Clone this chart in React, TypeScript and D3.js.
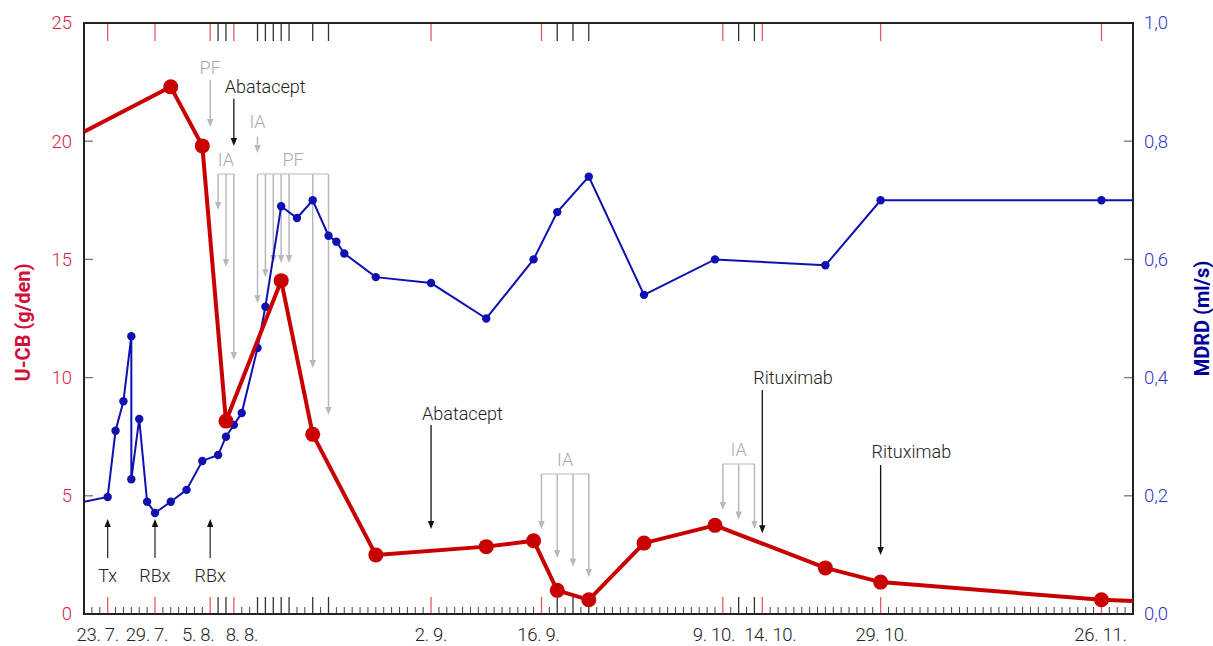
import React from "react";
import * as d3 from "d3";

const YEAR = "2013";
const domainDates = ["07-20", "11-30"];
const labelDates = ["07-23", "07-29", "08-05", "08-08", "09-02", "09-16", "10-09", "10-14", "10-29", "11-26"];
const eventDates = ["08-06", "08-07", "08-11", "08-12", "08-13", "08-14", "08-15", "08-18", "08-20", "09-18", "09-20", "09-22", "10-11", "10-13"];

const leftTicks = [0, 5, 10, 15, 20, 25];
const rightTicks = [0, 0.2, 0.4, 0.6, 0.8, 1.0];

// U-CB (g/den)
const ucbDates = ["07-20", "07-31", "08-04", "08-07", "08-14", "08-18", "08-26", "09-09", "09-15", "09-18", "09-22", "09-29", "10-08", "10-22", "10-29", "11-26", "11-30"];
const ucbValues = [20.4, 22.3, 19.8, 8.16, 14.1, 7.6, 2.5, 2.85, 3.1, 1.0, 0.6, 3.0, 3.75, 1.95, 1.35, 0.6, 0.55];
const ucbMarker = [false, true, true, true, true, true, true, true, true, true, true, true, true, true, true, true, false];

// MDRD (ml/s)
const mdrdDates = ["07-20", "07-23", "07-24", "07-25", "07-26", "07-26", "07-27", "07-28", "07-29", "07-31", "08-02", "08-04", "08-06", "08-07", "08-08", "08-09", "08-11", "08-12", "08-14", "08-16", "08-18", "08-20", "08-21", "08-22", "08-26", "09-02", "09-09", "09-15", "09-18", "09-22", "09-29", "10-08", "10-22", "10-29", "11-26", "11-30"];
const mdrdValues = [0.19, 0.198, 0.31, 0.36, 0.47, 0.228, 0.33, 0.19, 0.171, 0.19, 0.21, 0.259, 0.269, 0.30, 0.32, 0.34, 0.45, 0.52, 0.69, 0.67, 0.70, 0.64, 0.63, 0.61, 0.57, 0.56, 0.50, 0.60, 0.68, 0.74, 0.54, 0.60, 0.59, 0.70, 0.70, 0.70];
const mdrdMarker = mdrdDates.map((_, i) => i !== 0 && i !== mdrdDates.length - 1);

// Annotations (dates, label, arrow extents in U-CB axis units)
const singleDown = [
  { date: "08-05", label: "PF", gray: true, from: 22.6, to: 20.6, textAt: 22.84, anchor: "middle" },
  { date: "08-08", label: "Abatacept", gray: false, from: 21.8, to: 19.8, textAt: 22.04, anchor: "start" },
  { date: "08-11", label: "IA", gray: true, from: 20.2, to: 19.5, textAt: 20.55, anchor: "middle" },
  { date: "09-02", label: "Abatacept", gray: false, from: 8.0, to: 3.6, textAt: 8.2, anchor: "start" },
  { date: "10-14", label: "Rituximab", gray: false, from: 9.475, to: 3.42, textAt: 9.73, anchor: "start" },
  { date: "10-29", label: "Rituximab", gray: false, from: 6.3, to: 2.5, textAt: 6.6, anchor: "start" },
];
const brackets = [
  { label: "IA", dates: ["08-06", "08-07", "08-08"], top: 18.61, tips: [17.09, 14.68, 10.74], textAt: 18.95 },
  { label: "PF", dates: ["08-11", "08-12", "08-13", "08-14", "08-15", "08-18", "08-20"], top: 18.61, tips: [13.15, 14.25, 14.85, 14.85, 14.85, 10.41, 8.42], textAt: 18.95 },
  { label: "IA", dates: ["09-16", "09-18", "09-20", "09-22"], top: 5.92, tips: [3.6, 2.37, 2.0, 1.57], textAt: 6.26 },
  { label: "IA", dates: ["10-09", "10-11", "10-13"], top: 6.35, tips: [4.4, 4.0, 3.6], textAt: 6.68 },
];
const upArrows = [
  { date: "07-23", label: "Tx" },
  { date: "07-29", label: "RBx" },
  { date: "08-05", label: "RBx" },
];

// horizontal nudges (px) of crowded date labels
const labelNudge = [-10, -8, -12, 8, 0, -3, -9, 8, 1, -1];

const parse = (s: string) => d3.utcParse("%Y-%m-%d")(`${YEAR}-${s}`) as Date;

const W = 1213, H = 646;
const L = 84, R = 1133, T = 23, B = 614;
const RED = "#c80000";
const BLUE = "#1010b0";
const GRAY = "#b8b8b8";
const FONT = "Roboto, 'Open Sans', sans-serif";

export default function App() {
  const x = d3.scaleUtc().domain(domainDates.map(parse)).range([L, R]);
  const yL = d3.scaleLinear().domain([0, 25]).range([B, T]);
  const yR = d3.scaleLinear().domain([0, 1]).range([B, T]);

  const days = d3.utcDay.range(parse(domainDates[0]), d3.utcDay.offset(parse(domainDates[1]), 1));
  const labelSet = new Set(labelDates);
  const eventSet = new Set(eventDates);
  const fmtKey = d3.utcFormat("%m-%d");
  const fmtLabel = (d: Date) => `${d.getUTCDate()}. ${d.getUTCMonth() + 1}.`;

  const ucb = ucbDates.map((d, i) => ({ x: x(parse(d)), y: yL(ucbValues[i]), m: ucbMarker[i] }));
  const mdrd = mdrdDates.map((d, i) => ({ x: x(parse(d)), y: yR(mdrdValues[i]), m: mdrdMarker[i] }));
  const line = d3.line<{ x: number; y: number }>().x((d) => d.x).y((d) => d.y);

  const arrowHead = (px: number, py: number, dir: number, color: string, key: string) => (
    <path key={key} d={`M${px},${py} L${px - 3.2},${py - dir * 8} L${px + 3.2},${py - dir * 8} Z`} fill={color} />
  );

  return (
    <svg width={W} height={H} style={{ position: "absolute", left: 0, top: 0, background: "#fff" }} fontFamily={FONT}>
      <defs>
        <clipPath id="plot">
          <rect x={L} y={T} width={R - L} height={B - T} />
        </clipPath>
      </defs>

      {/* bottom day ticks */}
      {days.map((d, i) => {
        const k = fmtKey(d);
        const xx = x(d);
        if (labelSet.has(k)) return <line key={"b" + i} x1={xx} x2={xx} y1={B} y2={B - 17} stroke="#e85a5a" strokeWidth={1.3} />;
        if (eventSet.has(k)) return <line key={"b" + i} x1={xx} x2={xx} y1={B} y2={B - 17} stroke="#333" strokeWidth={1.3} />;
        return <line key={"b" + i} x1={xx} x2={xx} y1={B} y2={B - 7} stroke="#444" strokeWidth={1} />;
      })}
      {/* top event ticks */}
      {days.map((d, i) => {
        const k = fmtKey(d);
        const xx = x(d);
        if (labelSet.has(k)) return <line key={"t" + i} x1={xx} x2={xx} y1={T} y2={T + 18} stroke="#e85a5a" strokeWidth={1.3} />;
        if (eventSet.has(k)) return <line key={"t" + i} x1={xx} x2={xx} y1={T} y2={T + 18} stroke="#333" strokeWidth={1.3} />;
        return null;
      })}

      {/* y ticks inward */}
      {leftTicks.slice(1, -1).map((v) => (
        <line key={"lt" + v} x1={L} x2={L + 9} y1={yL(v)} y2={yL(v)} stroke="#777" strokeWidth={1.3} />
      ))}
      {rightTicks.slice(1, -1).map((v) => (
        <line key={"rt" + v} x1={R - 9} x2={R} y1={yR(v)} y2={yR(v)} stroke="#777" strokeWidth={1.3} />
      ))}

      {/* frame */}
      <rect x={L} y={T} width={R - L} height={B - T} fill="none" stroke="#222" strokeWidth={2} />

      {/* left labels */}
      {leftTicks.map((v) => (
        <text key={"ll" + v} x={72} y={yL(v)} dy="0.35em" textAnchor="end" fontSize={18.5} fontWeight={300} fill="#d6263f">
          {v}
        </text>
      ))}
      {rightTicks.map((v) => (
        <text key={"rl" + v} x={1144} y={yR(v)} dy="0.35em" textAnchor="start" fontSize={18.5} fontWeight={300} fill="#3535c8">
          {d3.format(".1f")(v).replace(".", ",")}
        </text>
      ))}
      {labelDates.map((s, i) => (
        <text key={"xl" + s} x={x(parse(s)) + labelNudge[i]} y={641} textAnchor="middle" fontSize={18.5} fontWeight={300} fill="#222" letterSpacing={-0.3}>
          {fmtLabel(parse(s))}
        </text>
      ))}

      {/* axis titles */}
      <text transform={`translate(30,${(T + B) / 2 + 4}) rotate(-90)`} textAnchor="middle" fontSize={20} fontWeight={700} fill="#d0103a">
        U-CB (g/den)
      </text>
      <text transform={`translate(1209,${(T + B) / 2}) rotate(-90)`} textAnchor="middle" fontSize={20} fontWeight={700} fill="#000099">
        MDRD (ml/s)
      </text>

      {/* annotations */}
      {singleDown.map((a, i) => {
        const xx = x(parse(a.date));
        const c = a.gray ? GRAY : "#111";
        const tc = a.gray ? "#aaa" : "#222";
        return (
          <g key={"sd" + i}>
            <line x1={xx} x2={xx} y1={yL(a.from)} y2={yL(a.to) - 6} stroke={c} strokeWidth={a.gray ? 1.5 : 1.3} />
            {arrowHead(xx, yL(a.to), 1, c, "h")}
            <text x={a.anchor === "start" ? xx - 9 : xx} y={yL(a.textAt)} textAnchor={a.anchor} fontSize={18} fontWeight={300} fill={tc}>
              {a.label}
            </text>
          </g>
        );
      })}
      {brackets.map((b, i) => {
        const xs = b.dates.map((d) => x(parse(d)));
        const yt = yL(b.top);
        return (
          <g key={"br" + i}>
            <line x1={xs[0]} x2={xs[xs.length - 1]} y1={yt} y2={yt} stroke="#d0d0d0" strokeWidth={1.5} />
            {xs.map((xx, j) => (
              <g key={j}>
                <line x1={xx} x2={xx} y1={yt} y2={yL(b.tips[j]) - 6} stroke={GRAY} strokeWidth={1.5} />
                {arrowHead(xx, yL(b.tips[j]), 1, GRAY, "h")}
              </g>
            ))}
            <text x={(xs[0] + xs[xs.length - 1]) / 2} y={yL(b.textAt)} textAnchor="middle" fontSize={18} fontWeight={300} fill="#aaa">
              {b.label}
            </text>
          </g>
        );
      })}
      {upArrows.map((a, i) => {
        const xx = x(parse(a.date));
        return (
          <g key={"ua" + i}>
            <line x1={xx} x2={xx} y1={558} y2={526} stroke="#333" strokeWidth={1.3} />
            {arrowHead(xx, 519, -1, "#111", "h")}
            <text x={xx} y={582} textAnchor="middle" fontSize={18} fontWeight={300} fill="#222">
              {a.label}
            </text>
          </g>
        );
      })}

      {/* series */}
      <g clipPath="url(#plot)">
        <path d={line(mdrd) || ""} fill="none" stroke={BLUE} strokeWidth={2} />
        {mdrd.filter((p) => p.m).map((p, i) => (
          <circle key={"bm" + i} cx={p.x} cy={p.y} r={4.2} fill={BLUE} />
        ))}
        <path d={line(ucb) || ""} fill="none" stroke={RED} strokeWidth={4} strokeLinejoin="round" />
        {ucb.filter((p) => p.m).map((p, i) => (
          <circle key={"rm" + i} cx={p.x} cy={p.y} r={7.5} fill={RED} />
        ))}
      </g>
    </svg>
  );
}
